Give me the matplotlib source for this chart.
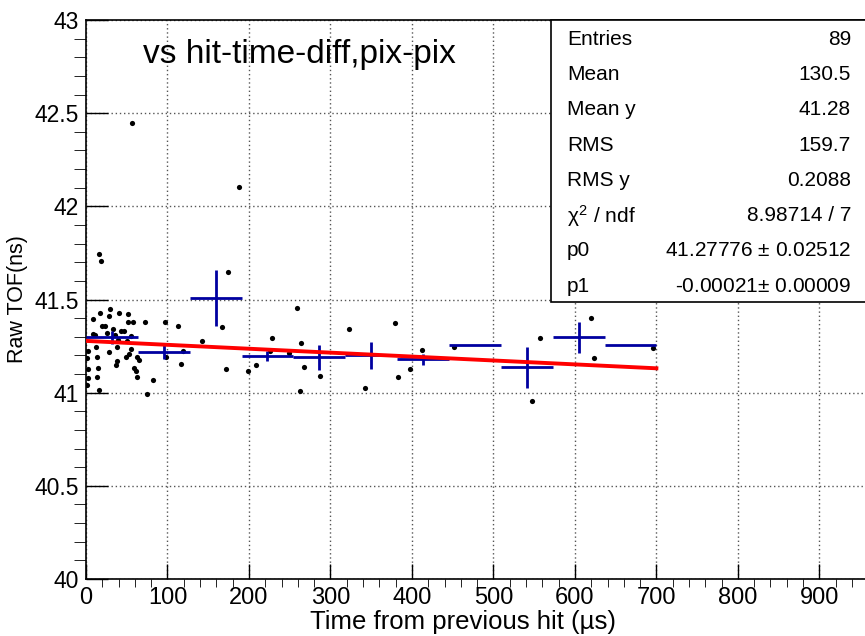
import numpy as np
import matplotlib
matplotlib.use("Agg")
import matplotlib.pyplot as plt
from matplotlib.patches import Rectangle
from matplotlib.ticker import MultipleLocator, FormatStrFormatter

plt.rcParams['font.family'] = ['Liberation Sans', 'DejaVu Sans']
plt.rcParams['mathtext.fontset'] = 'custom'
plt.rcParams['mathtext.rm'] = 'Liberation Sans'
plt.rcParams['mathtext.it'] = 'Liberation Sans'

# scatter points: time since previous hit (us), raw TOF (ns)
hit_dt = [29.5, 17.2, 28.2, 40.5, 51.5, 8.6, 51.5, 57.7, 72.4, 97.0,
          112.9, 19.6, 23.3, 33.1, 43.0, 46.6, 25.8, 8.6, 11.0, 35.6,
          55.2, 39.3, 50.3, 142.4, 228.3, 12.3, 38.0, 55.2, 2.5, 28.2,
          1.2, 13.5, 49.1, 52.8, 62.6, 65.0, 98.2, 119.0, 38.0, 36.8,
          116.6, 2.5, 14.7, 58.9, 61.4, 62.6, 13.5, 2.5, 1.2, 82.2,
          16.0, 74.9, 56.5, 187.8, 16.0, 18.4, 174.3, 166.9, 171.8, 198.8,
          208.6, 225.8, 249.1, 259.0, 263.9, 267.5, 287.2, 262.6, 322.8, 342.4,
          379.2, 412.4, 397.6, 382.9, 451.6, 557.2, 547.4, 619.8, 623.5, 695.9]
raw_tof = [41.449, 41.428, 41.411, 41.428, 41.422, 41.395, 41.379, 41.379, 41.379, 41.379,
           41.358, 41.358, 41.358, 41.342, 41.331, 41.331, 41.320, 41.315, 41.310, 41.310,
           41.304, 41.283, 41.277, 41.277, 41.293, 41.245, 41.245, 41.234, 41.224, 41.218,
           41.186, 41.191, 41.191, 41.208, 41.191, 41.175, 41.191, 41.224, 41.170, 41.149,
           41.154, 41.127, 41.132, 41.132, 41.116, 41.084, 41.084, 41.079, 41.041, 41.068,
           41.014, 40.993, 42.447, 42.104, 41.744, 41.707, 41.648, 41.352, 41.127, 41.116,
           41.149, 41.224, 41.213, 41.454, 41.267, 41.138, 41.090, 41.009, 41.342, 41.025,
           41.374, 41.229, 41.127, 41.084, 41.245, 41.293, 40.955, 41.401, 41.186, 41.240]

# profile: 11 bins from 0 to 700
prof_edges = np.linspace(0, 700, 12)
prof_mean = [41.298, 41.218, 41.507, 41.196, 41.190, 41.200, 41.180, 41.255, 41.137, 41.298, 41.255]
prof_err = [0.035, 0.037, 0.15, 0.025, 0.067, 0.072, 0.03, 0.0, 0.11, 0.083, 0.0]

# linear fit
p0 = 41.27776
p1 = -0.00021
fit_range = [0, 700]

stat_names = ['Entries', 'Mean', 'Mean y', 'RMS', 'RMS y', r'$\chi^{2}$ / ndf', 'p0', 'p1']
stat_values = ['89', '130.5', '41.28', '159.7', '0.2088', '8.98714 / 7',
               '41.27776 $\\pm$ 0.02512', '-0.00021$\\pm$ 0.00009']

W, H = 865, 636
fig = plt.figure(figsize=(W / 100, H / 100), dpi=100)
ax = fig.add_axes([86 / W, (H - 579) / H, (W - 86) / W, (579 - 20) / H])

ax.grid(True, which='major', color='#555555', linestyle=(0, (1, 2)), linewidth=1)
ax.set_axisbelow(True)

ax.scatter(hit_dt, raw_tof, s=14, color='black', zorder=3, linewidths=0)

centers = 0.5 * (prof_edges[:-1] + prof_edges[1:])
half = 0.5 * (prof_edges[1] - prof_edges[0])
ax.errorbar(centers, prof_mean, xerr=half, yerr=prof_err, fmt='none',
            ecolor='#0000a0', elinewidth=2, capsize=0, zorder=4)

xf = np.array(fit_range)
ax.plot(xf, p0 + p1 * xf, color='red', linewidth=2.8, zorder=5)

ax.set_xlim(0, 956)
ax.set_ylim(40, 43)
ax.xaxis.set_major_locator(MultipleLocator(100))
ax.xaxis.set_minor_locator(MultipleLocator(20))
ax.yaxis.set_major_locator(MultipleLocator(0.5))
ax.yaxis.set_minor_locator(MultipleLocator(0.1))
ax.yaxis.set_major_formatter(FormatStrFormatter('%g'))

ax.tick_params(axis='both', direction='in', width=1)
ax.tick_params(axis='y', which='major', length=16, pad=5, labelsize=16.5)
ax.tick_params(axis='y', which='minor', length=8.5)
ax.tick_params(axis='x', which='major', length=11, pad=6, labelsize=17)
ax.tick_params(axis='x', which='minor', length=6)
ax.spines['right'].set_visible(False)
for s in ['left', 'bottom', 'top']:
    ax.spines[s].set_linewidth(1.2)

ax.set_xlabel('Time from previous hit (\u00b5s)', fontsize=18.5)
ax.xaxis.set_label_coords((463 - 86) / (W - 86), -(622 - 579) / (579 - 20))
ax.xaxis.label.set_va('center')
ax.set_ylabel('Raw TOF(ns)', fontsize=15.5, labelpad=5)

fig.text(143 / W, 1 - 55 / H, 'vs hit-time-diff,pix-pix', fontsize=24,
         ha='left', va='center')

# stats box
box_top = 20
row_h = 35.25
fig.patches.append(Rectangle((551 / W, 1 - 302 / H), (W - 551 + 5) / W, (302 - box_top) / H,
                             transform=fig.transFigure, facecolor='white',
                             edgecolor='black', linewidth=1.2, zorder=10))
for i, (nm, val) in enumerate(zip(stat_names, stat_values)):
    yc = 1 - (box_top + (i + 0.55) * row_h) / H
    fig.text(567 / W, yc, nm, fontsize=15, ha='left', va='center', zorder=11)
    fig.text(851 / W, yc, val, fontsize=15, ha='right', va='center', zorder=11)

fig.savefig('out.png', dpi=100)
